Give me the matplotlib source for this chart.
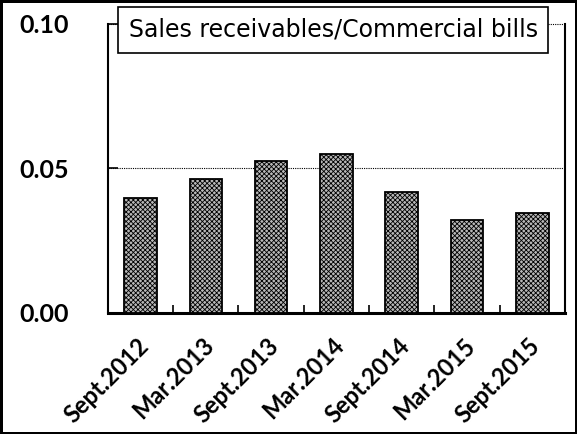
import matplotlib
matplotlib.use("Agg")
import matplotlib.pyplot as plt
import matplotlib as mpl
from matplotlib.transforms import ScaledTranslation

categories = ["Sept.2012", "Mar.2013", "Sept.2013", "Mar.2014", "Sept.2014", "Mar.2015", "Sept.2015"]
values = [0.0398, 0.0464, 0.0524, 0.0550, 0.0419, 0.0322, 0.0346]
yticks = [0.00, 0.05, 0.10]
ytick_labels = ["0.00", "0.05", "0.10"]
title = "Sales receivables/Commercial bills"

mpl.rcParams['hatch.linewidth'] = 0.6
mpl.rcParams['hatch.color'] = '#666666'

fig = plt.figure(figsize=(5.77, 4.34), dpi=100)
fig.patch.set_edgecolor('black')
fig.patch.set_linewidth(2.5)
ax = fig.add_axes([0.187, 0.279, 0.792, 0.666])

x = list(range(len(categories)))
ax.bar(x, values, width=0.5, facecolor='#b8b8b8', edgecolor='black', linewidth=1.3,
       hatch='xxxxxxx', zorder=3)

ax.set_xlim(-0.5, len(categories) - 0.5)
ax.set_ylim(0, 0.10)
ax.set_yticks(yticks)
ax.set_yticklabels(ytick_labels, fontsize=18, fontweight='bold', family=['Lato', 'DejaVu Sans'])
ax.tick_params(axis='y', direction='in', length=7, width=1.2, pad=28)

ax.set_xticks(x)
ax.set_xticklabels(categories, rotation=45, ha='right', rotation_mode='anchor',
                   fontsize=17, fontweight='bold', family=['Lato', 'DejaVu Sans'])
ax.tick_params(axis='x', which='major', length=0, pad=15)
ax.set_xticks([i + 0.5 for i in x[:-1]], minor=True)
ax.tick_params(axis='x', which='minor', direction='in', length=6, width=1.2)
offset = ScaledTranslation(-4 / 100, 0, fig.dpi_scale_trans)
for lbl in ax.get_xticklabels():
    lbl.set_transform(lbl.get_transform() + offset)

for yv in [0.05, 0.10]:
    ax.axhline(yv, color='black', linestyle=(0, (1, 1)), linewidth=0.8, zorder=1, clip_on=False)

ax.spines['top'].set_visible(False)
ax.spines['left'].set_linewidth(1.5)
ax.spines['right'].set_linewidth(1.5)
ax.spines['bottom'].set_linewidth(2.2)

ax.text(0.493, 0.979, title, transform=ax.transAxes, ha='center', va='center', fontsize=17,
        family=['DejaVu Sans'], zorder=5,
        bbox=dict(boxstyle='square,pad=0.45', facecolor='white', edgecolor='black', linewidth=1.2))

fig.savefig("out.png", dpi=100, edgecolor=fig.get_edgecolor())
